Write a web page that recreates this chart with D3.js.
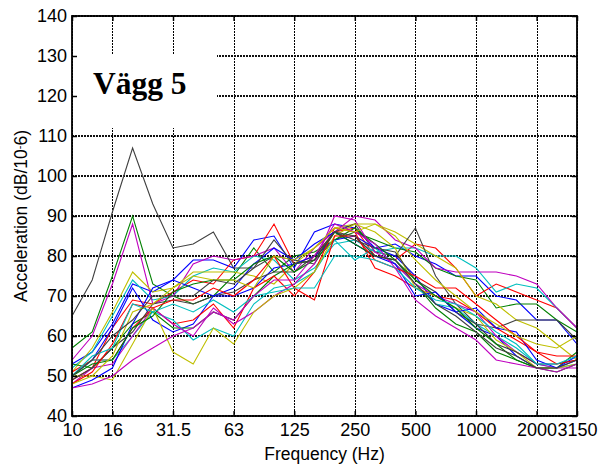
<!DOCTYPE html>
<html>
<head>
<meta charset="utf-8">
<script src="https://d3js.org/d3.v7.min.js"></script>
<style>
body { margin:0; background:#fff; }
text { font-family: "Liberation Sans", Arial, sans-serif; }
</style>
</head>
<body>
<script>
// third-octave bands (Hz)
var bands = [10,12.5,16,20,25,31.5,40,50,63,80,100,125,160,200,250,315,400,500,630,800,1000,1250,1600,2000,2500,3150];
var xTicks = [10,16,31.5,63,125,250,500,1000,2000,3150];
var xTickLabels = ["10","16","31.5","63","125","250","500","1000","2000","3150"];
var yTicks = [40,50,60,70,80,90,100,110,120,130,140];

// measurements, dB re 1e-6 m/s2
var blue1    = [53,56,63,73,71,74,79,79,77,84,85,77,86,88,87,82,83,80,78,75,75,70,69,64,64,58];
var green1   = [57,61,75,90,73,70,68,70,75,82,76,80,81,84,86,84,82,81,77,75,74,67,68,68,64,61];
var red1     = [49,52,62,69,68,71,74,73,79,80,88,78,80,86,87,80,79,83,82,77,70,73,71,69,67,62];
var cyan1    = [52,56,65,74,69,70,75,77,76,80,79,74,77,83,84,81,82,82,80,80,77,71,73,72,67,62];
var magenta1 = [54,60,73,88,68,70,78,80,79,80,82,76,82,86,90,89,84,82,77,76,76,76,75,73,67,62];
var yellow1  = [51,57,66,76,71,72,76,76,76,75,73,78,82,87,88,88,86,83,80,77,70,68,64,62,58,54];
var gray1    = [65,74,91,107,93,82,83,86,77,77,80,79,78,86,88,81,80,87,75,68,63,62,64,64,64,59];

var blue2    = [50,54,62,72,64,61,63,70,70,72,77,78,80,84,85,82,80,75,68,66,62,60,55,52,52,54];
var green2   = [53,52,57,63,66,62,62,66,64,70,75,78,79,84,87,83,79,73,67,63,61,56,54,52,52,56];
var red2     = [51,54,54,62,67,63,64,68,62,72,75,70,76,87,86,77,75,72,70,69,66,62,59,56,55,55];
var cyan2    = [50,54,54,60,66,64,59,62,60,68,72,73,76,84,79,82,78,73,68,67,63,60,57,53,52,53];
var magenta2 = [48,52,53,60,67,63,60,67,63,66,70,73,78,90,89,81,78,73,70,68,66,60,56,53,52,52];
var yellow2  = [50,50,49,58,67,56,53,62,58,66,70,72,76,85,88,86,82,72,70,67,65,59,56,52,52,53];
var gray2    = [49,52,57,61,68,69,68,70,71,74,76,76,80,86,84,82,81,74,71,66,63,58,56,53,53,54];

var blue3    = [47,49,52,63,72,74,72,70,72,78,82,79,83,86,83,80,78,70,71,66,67,62,61,54,52,55];
var green3   = [50,53,54,62,65,71,73,74,74,78,80,76,79,86,83,80,79,74,70,67,62,58,54,52,51,53];
var red3     = [48,51,58,68,67,69,69,72,70,74,80,72,69,85,85,79,77,75,72,72,68,64,60,56,53,54];
var cyan3    = [50,55,57,68,66,68,66,69,66,70,71,72,72,80,80,79,77,72,69,68,65,61,58,53,53,55];
var magenta3 = [47,48,50,54,57,60,62,66,64,70,74,74,80,88,86,83,77,69,65,62,59,54,53,52,51,53];
var yellow3  = [48,50,55,66,68,72,75,74,74,72,80,79,82,87,86,88,85,79,74,70,66,63,60,58,57,60];
var gray3    = [50,54,60,64,70,70,70,74,73,77,84,78,79,86,85,80,79,73,68,65,61,57,55,52,52,54];

var series = [blue1,green1,red1,cyan1,magenta1,yellow1,gray1,
              blue2,green2,red2,cyan2,magenta2,yellow2,gray2,
              blue3,green3,red3,cyan3,magenta3,yellow3,gray3];

var colors = ["#0000ff","#008000","#ff0000","#00bfbf","#bf00bf","#bfbf00","#404040"];

var width  = 603;
var height = 470;
var margin = {left:72, right:26, top:16, bottom:54};

var svg = d3.select("body").append("svg").attr("width", width).attr("height", height);
svg.append("rect").attr("width", width).attr("height", height).attr("fill", "#fff");

var x = d3.scalePoint().domain(bands).range([margin.left, width-margin.right]);
var y = d3.scaleLinear().domain([40,140]).range([height-margin.bottom, margin.top]);

function px(v) { return Math.round(v) + 0.5; }

// grid
var grid = svg.append("g").attr("class", "grid").attr("shape-rendering", "crispEdges");
grid.selectAll("line.v").data(xTicks).enter().append("line")
    .attr("x1", function(d){return px(x(d));}).attr("x2", function(d){return px(x(d));})
    .attr("y1", y(140)).attr("y2", y(40))
    .attr("stroke", "#000").attr("stroke-width", 1).attr("stroke-dasharray", "2,1");
grid.selectAll("line.h").data(yTicks).enter().append("line")
    .attr("x1", x(10)).attr("x2", x(3150))
    .attr("y1", function(d){return Math.round(y(d));}).attr("y2", function(d){return Math.round(y(d));})
    .attr("stroke", "#111").attr("stroke-width", 2).attr("stroke-dasharray", "2,1");

// white box behind the title
svg.append("rect").attr("x", x(10)+1).attr("y", 54).attr("width", 144).attr("height", 74).attr("fill", "#fff");
svg.append("text").attr("x", 93).attr("y", 94)
    .style("font-family", "'Liberation Serif', 'Times New Roman', serif")
    .style("font-weight", "bold").style("font-size", "31.5px")
    .text("Vägg 5");

// lines
var line = d3.line().x(function(d,i){return x(bands[i]);})
                    .y(function(d){return y(d);});

svg.append("g").selectAll("path").data(series).enter().append("path")
    .attr("d", function(d){return line(d);})
    .attr("fill", "none")
    .attr("stroke", function(d,i){return colors[i % colors.length];})
    .attr("stroke-width", 1.1);

// axes (ticks inside, matlab style)
var xAxis = d3.axisBottom(x).tickValues(xTicks).tickSize(-5).tickPadding(7)
              .tickFormat(function(d,i){return xTickLabels[i];});
var yAxis = d3.axisLeft(y).tickValues(yTicks).tickSize(-5).tickPadding(5);

var gx = svg.append("g").attr("transform", "translate(0,"+y(40)+")").call(xAxis);
var gy = svg.append("g").attr("transform", "translate("+x(10)+",0)").call(yAxis);
var gt = svg.append("g").attr("transform", "translate(0,"+y(140)+")")
            .call(d3.axisTop(x).tickValues(xTicks).tickSize(-5).tickFormat(""));
var gr = svg.append("g").attr("transform", "translate("+x(3150)+",0)")
            .call(d3.axisRight(y).tickValues(yTicks).tickSize(-5).tickFormat(""));

[gx,gy,gt,gr].forEach(function(g){
    g.select(".domain").remove();
    g.selectAll(".tick line").attr("stroke", "#000").attr("stroke-width", 1.5);
    g.selectAll("text").style("font-family", "'Liberation Sans', Arial, sans-serif")
                       .style("font-size", "18px").attr("fill", "#000");
});

svg.append("rect").attr("x", x(10)).attr("y", y(140))
    .attr("width", x(3150)-x(10)).attr("height", y(40)-y(140))
    .attr("fill", "none").attr("stroke", "#000").attr("stroke-width", 1.8);

// axis labels
svg.append("text").attr("x", (x(10)+x(3150))/2).attr("y", 460)
    .attr("text-anchor", "middle").style("font-size", "17.5px")
    .text("Frequency (Hz)");

var yl = svg.append("text").attr("transform", "translate(27,"+((y(40)+y(140))/2)+") rotate(-90)")
    .attr("text-anchor", "middle").style("font-size", "17.5px");
yl.append("tspan").text("Acceleration (dB/10");
yl.append("tspan").attr("baseline-shift", "40%").style("font-size", "11px").text("-");
yl.append("tspan").text("6)");
</script>
</body>
</html>
